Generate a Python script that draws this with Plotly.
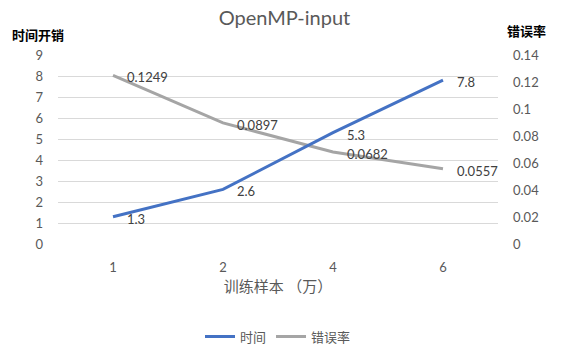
import plotly.graph_objects as go

categories = ["1", "2", "4", "6"]
time_vals = [1.3, 2.6, 5.3, 7.8]
err_vals = [0.1249, 0.0897, 0.0682, 0.0557]
time_labels = ["1.3", "2.6", "5.3", "7.8"]
err_labels = ["0.1249", "0.0897", "0.0682", "0.0557"]

num_font = "Lato, Open Sans, sans-serif"
cjk_font = "Noto Sans CJK SC, sans-serif"

fig = go.Figure()
fig.add_trace(go.Scatter(
    x=categories, y=err_vals, name="错误率", yaxis="y",
    mode="lines", line=dict(color="#A5A5A5", width=3),
))
fig.add_trace(go.Scatter(
    x=categories, y=time_vals, name="时间", yaxis="y2",
    mode="lines", line=dict(color="#4472C4", width=3),
))

annotations = []
for i, (v, t) in enumerate(zip(err_vals, err_labels)):
    annotations.append(dict(x=i, y=v, xref="x", yref="y", text=t, showarrow=False,
                            xanchor="left", yanchor="middle", xshift=12, yshift=-2,
                            font=dict(family=num_font, size=13, color="#404040")))
for i, (v, t) in enumerate(zip(time_vals, time_labels)):
    annotations.append(dict(x=i, y=v, xref="x", yref="y2", text=t, showarrow=False,
                            xanchor="left", yanchor="middle", xshift=12, yshift=-2,
                            font=dict(family=num_font, size=13, color="#404040")))
annotations += [
    dict(text="<b>时间开销</b>", xref="paper", yref="paper", x=-0.11, y=1.11,
         xanchor="left", yanchor="middle", showarrow=False,
         font=dict(family=cjk_font, size=13, color="#000000")),
    dict(text="<b>错误率</b>", xref="paper", yref="paper", x=1.015, y=1.13,
         xanchor="left", yanchor="middle", showarrow=False,
         font=dict(family=cjk_font, size=13, color="#000000")),
]

fig.update_layout(
    width=569, height=354,
    margin=dict(l=58, r=71, t=55, b=110, autoexpand=False),
    paper_bgcolor="white", plot_bgcolor="white",
    showlegend=True,
    title=dict(text="OpenMP-input", x=0.5, xanchor="center", y=0.95, yanchor="middle",
               font=dict(family=num_font, size=20, color="#595959")),
    xaxis=dict(type="category", range=[-0.5, 3.5], showgrid=False, showline=False,
               zeroline=False, ticks="", ticklabelstandoff=14, automargin=False,
               tickfont=dict(family=num_font, size=13, color="#595959"),
               title=dict(text="训练样本 （万）", font=dict(family=cjk_font, size=15, color="#595959"),
                          standoff=6)),
    yaxis=dict(side="right", range=[0, 0.14], dtick=0.02, showgrid=False, zeroline=False,
               tickformat="~g", ticks="", ticklabelstandoff=14, automargin=False,
               tickfont=dict(family=num_font, size=13, color="#595959")),
    yaxis2=dict(side="left", overlaying="y", range=[0, 9], dtick=1, showgrid=True,
                gridcolor="#D9D9D9", gridwidth=1, zeroline=False, ticks="",
                ticklabelstandoff=14, automargin=False,
                tickfont=dict(family=num_font, size=13, color="#595959")),
    legend=dict(orientation="h", x=0.5, xanchor="center", y=-0.49, yanchor="middle",
                traceorder="reversed",
                font=dict(family=cjk_font, size=13, color="#595959")),
    annotations=annotations,
)

fig.write_html("out.html")
